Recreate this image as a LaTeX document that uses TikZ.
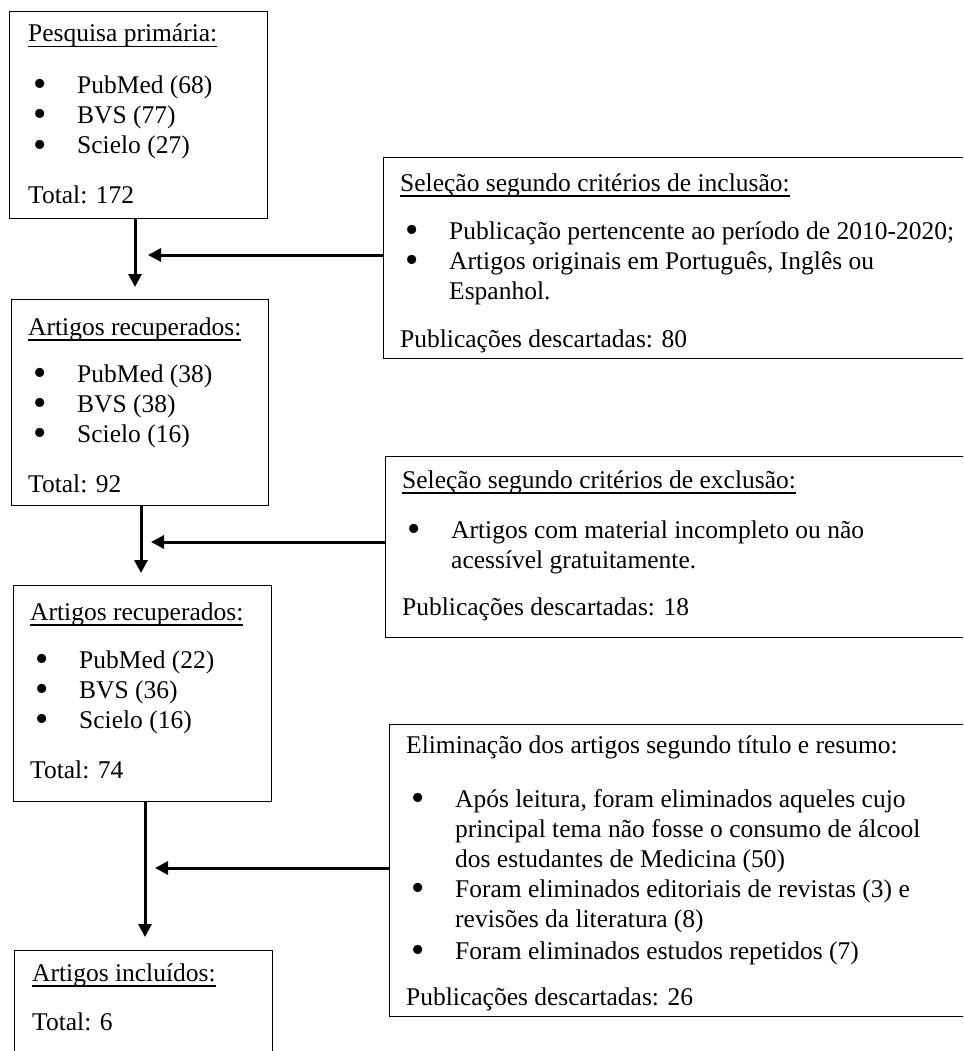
\documentclass[tikz,border=0pt]{standalone}
\usepackage{fontspec}
\setmainfont{Liberation Serif}
\usetikzlibrary{arrows.meta,calc}
\newcommand{\undl}[1]{\setbox0=\hbox{#1}\rlap{\rule[-5.5pt]{\wd0}{1.2pt}}\box0}
\newcommand{\bul}{\makebox[49pt][l]{\hspace{5pt}\smash{\raisebox{-3pt}{\fontsize{38}{30}\selectfont\textbullet}}}}
\newcommand{\ind}{\hspace*{49pt}}
\tikzset{
  box/.style={draw, line width=1.2pt, anchor=north west, inner sep=0pt},
  txt/.style={anchor=base west, inner sep=0pt, font=\fontsize{25.5}{30}\selectfont},
  arr/.style={line width=3pt, -{Triangle[width=13pt,length=13pt]}},
}
\begin{document}
\begin{tikzpicture}[x=1pt,y=-1pt]
\useasboundingbox (0,0) rectangle (963,1051);
\clip (0,0) rectangle (963,1051);
% boxes
\node[box, minimum width=258pt, minimum height=207pt] (b1) at (9,11) {};
\node[box, minimum width=257pt, minimum height=206pt] (b2) at (11,299) {};
\node[box, minimum width=600pt, minimum height=201pt] (b3) at (383,157) {};
\node[box, minimum width=600pt, minimum height=181pt] (b4) at (385,456) {};
\node[box, minimum width=258pt, minimum height=216pt] (b5) at (13,585) {};
\node[box, minimum width=600pt, minimum height=292pt] (b6) at (389,724) {};
\node[box, minimum width=258pt, minimum height=130pt] (b7) at (14,950) {};
% box 1
\node[txt] (b1a) at ($(b1.north west)+(19,31)$) {\undl{Pesquisa primária:}};
\node[txt] (b1b) at ($(b1.north west)+(19,83)$) {\bul PubMed (68)};
\node[txt] (b1c) at ($(b1.north west)+(19,113)$) {\bul BVS (77)};
\node[txt] (b1d) at ($(b1.north west)+(19,143)$) {\bul Scielo (27)};
\node[txt] (b1e) at ($(b1.north west)+(19,193)$) {Total: 172};
% box 2
\node[txt] (b2a) at ($(b2.north west)+(17,36)$) {\undl{Artigos recuperados:}};
\node[txt] (b2b) at ($(b2.north west)+(17,83)$) {\bul PubMed (38)};
\node[txt] (b2c) at ($(b2.north west)+(17,113)$) {\bul BVS (38)};
\node[txt] (b2d) at ($(b2.north west)+(17,143)$) {\bul Scielo (16)};
\node[txt] (b2e) at ($(b2.north west)+(17,193)$) {Total: 92};
% box 3
\node[txt] (b3a) at ($(b3.north west)+(17,34)$) {\undl{Seleção segundo critérios de inclusão:}};
\node[txt] (b3b) at ($(b3.north west)+(17,82)$) {\bul Publicação pertencente ao período de 2010-2020;};
\node[txt] (b3c) at ($(b3.north west)+(17,112)$) {\bul Artigos originais em Português, Inglês ou};
\node[txt] (b3d) at ($(b3.north west)+(17,142)$) {\ind Espanhol.};
\node[txt] (b3e) at ($(b3.north west)+(17,190)$) {Publicações descartadas: 80};
% box 4
\node[txt] (b4a) at ($(b4.north west)+(17,32)$) {\undl{Seleção segundo critérios de exclusão:}};
\node[txt] (b4b) at ($(b4.north west)+(17,82)$) {\bul Artigos com material incompleto ou não};
\node[txt] (b4c) at ($(b4.north west)+(17,112)$) {\ind acessível gratuitamente.};
\node[txt] (b4d) at ($(b4.north west)+(17,159)$) {Publicações descartadas: 18};
% box 5
\node[txt] (b5a) at ($(b5.north west)+(17,35)$) {\undl{Artigos recuperados:}};
\node[txt] (b5b) at ($(b5.north west)+(17,83)$) {\bul PubMed (22)};
\node[txt] (b5c) at ($(b5.north west)+(17,113)$) {\bul BVS (36)};
\node[txt] (b5d) at ($(b5.north west)+(17,143)$) {\bul Scielo (16)};
\node[txt] (b5e) at ($(b5.north west)+(17,193)$) {Total: 74};
% box 6
\node[txt] (b6a) at ($(b6.north west)+(17,29)$) {Eliminação dos artigos segundo título e resumo:};
\node[txt] (b6b) at ($(b6.north west)+(17,83)$) {\bul Após leitura, foram eliminados aqueles cujo};
\node[txt] (b6c) at ($(b6.north west)+(17,113)$) {\ind principal tema não fosse o consumo de álcool};
\node[txt] (b6d) at ($(b6.north west)+(17,143)$) {\ind dos estudantes de Medicina (50)};
\node[txt] (b6e) at ($(b6.north west)+(17,173)$) {\bul Foram eliminados editoriais de revistas (3) e};
\node[txt] (b6f) at ($(b6.north west)+(17,203)$) {\ind revisões da literatura (8)};
\node[txt] (b6g) at ($(b6.north west)+(17,235)$) {\bul Foram eliminados estudos repetidos (7)};
\node[txt] (b6h) at ($(b6.north west)+(17,281)$) {Publicações descartadas: 26};
% box 7
\node[txt] (b7a) at ($(b7.north west)+(18,31)$) {\undl{Artigos incluídos:}};
\node[txt] (b7b) at ($(b7.north west)+(18,80)$) {Total: 6};
% connectors
\coordinate (a1) at (135,287);
\coordinate (h1) at (148,255);
\coordinate (a2) at (141,573);
\coordinate (h2) at (151,542);
\coordinate (a3) at (145,937);
\coordinate (h3) at (155,868);
\draw[arr] (a1 |- b1.south) -- (a1);
\draw[arr] (h1 -| b3.west) -- (h1);
\draw[arr] (a2 |- b2.south) -- (a2);
\draw[arr] (h2 -| b4.west) -- (h2);
\draw[arr] (a3 |- b5.south) -- (a3);
\draw[arr] (h3 -| b6.west) -- (h3);
\end{tikzpicture}
\end{document}
